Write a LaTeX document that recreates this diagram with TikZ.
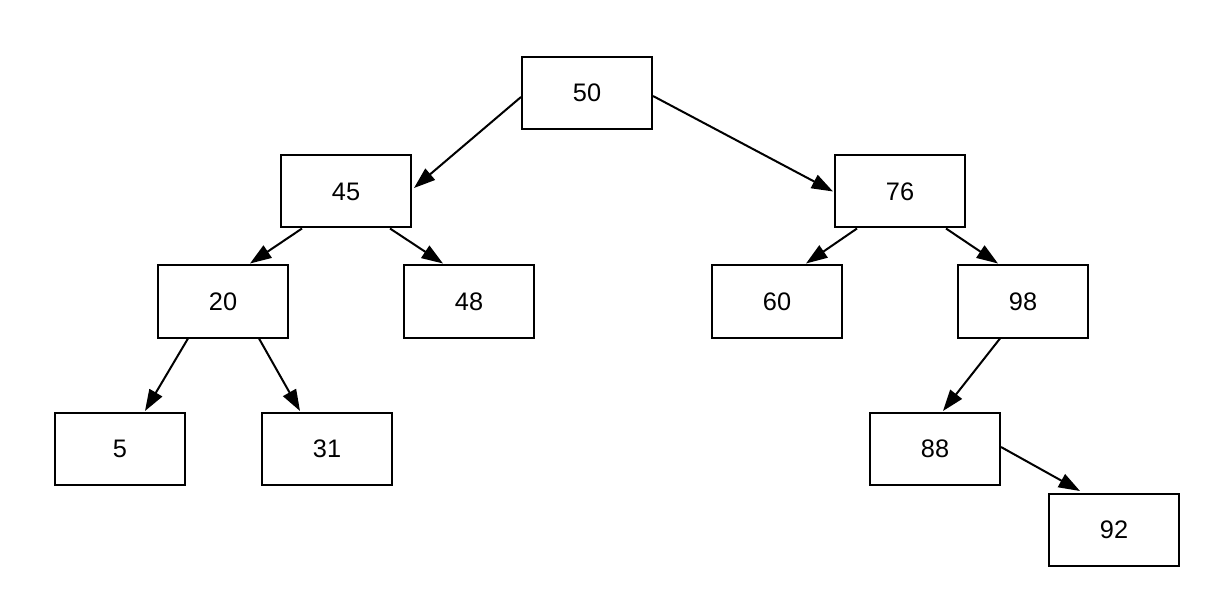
\documentclass[tikz,border=0pt]{standalone}
\usepackage{fontspec}
\setmainfont{Liberation Sans}
\usetikzlibrary{arrows.meta,calc}
\begin{document}
\begin{tikzpicture}[x=0.75pt,y=-0.75pt,
  treebox/.style={draw=black,line width=1.5pt,fill=white,minimum width=97.5pt,minimum height=54pt,inner sep=0pt,font=\fontsize{19}{22}\selectfont},
  edge/.style={line width=1.5pt,-{Triangle[length=16pt,width=11pt]}}]
\useasboundingbox (0,0) rectangle (1205,609);
\node[treebox] (n50) at (587,93) {50};
\node[treebox] (n45) at (346,191.5) {45};
\node[treebox] (n76) at (900,191.5) {76};
\node[treebox] (n20) at (223,301.5) {20};
\node[treebox] (n48) at (469,301.5) {48};
\node[treebox] (n60) at (777,301.5) {60};
\node[treebox] (n98) at (1023,301.5) {98};
\node[treebox] (n5) at (120,449) {5};
\node[treebox] (n31) at (327,449) {31};
\node[treebox] (n88) at (935,449) {88};
\node[treebox] (n92) at (1114,530) {92};
\draw[edge] ($(n50.west)+(0,4)$) -- ($(n45.east)+(2,-3.5)$);
\draw[edge] ($(n50.east)+(0,3)$) -- ($(n76.west)+(-1,0)$);
\draw[edge] ($(n45.south)+(-44,0)$) -- ($(n20.north)+(27,-1)$);
\draw[edge] ($(n45.south)+(44,0)$) -- ($(n48.north)+(-26,-1)$);
\draw[edge] ($(n76.south)+(-43,0)$) -- ($(n60.north)+(29,-1)$);
\draw[edge] ($(n76.south)+(46,0)$) -- ($(n98.north)+(-25,-1)$);
\draw[edge] ($(n20.south)+(-35,0)$) -- ($(n5.north)+(25,-1)$);
\draw[edge] ($(n20.south)+(36,0)$) -- ($(n31.north)+(-27,-1)$);
\draw[edge] ($(n98.south)+(-23,0)$) -- ($(n88.north)+(8,-1)$);
\draw[edge] ($(n88.east)+(0,-2)$) -- ($(n92.north)+(-34,-2)$);
\end{tikzpicture}
\end{document}
